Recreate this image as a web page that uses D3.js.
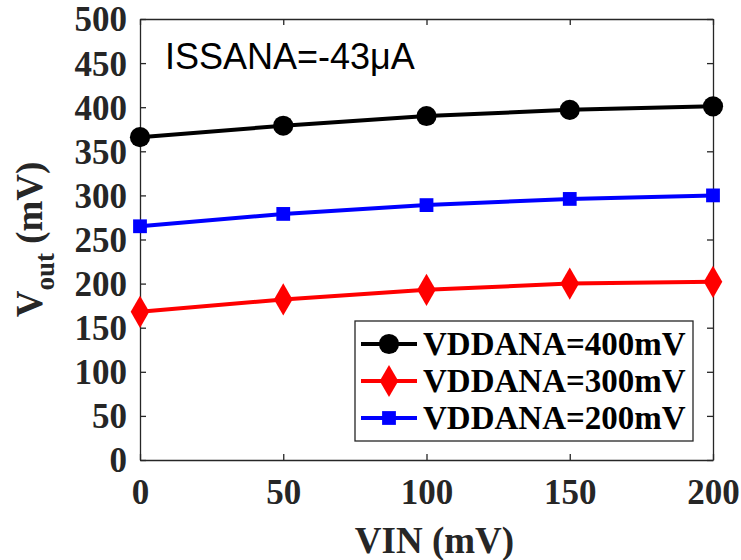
<!DOCTYPE html>
<html>
<head>
<meta charset="utf-8">
<script src="https://cdn.jsdelivr.net/npm/d3@7"></script>
<style>
  body { margin: 0; background: #fff; }
  .tick text { font-family: "Liberation Serif", "Times New Roman", serif; font-weight: bold; fill: #262626; }
</style>
</head>
<body>
<div id="wrapper"></div>
<script>
const vin = [0, 50, 100, 150, 200];
const vdd400 = [366, 379, 390, 397, 401];
const vdd300 = [168, 182, 193, 200, 202];
const vdd200 = [265, 279, 289, 296, 300];
const xTicks = [0, 50, 100, 150, 200];
const yTicks = [0, 50, 100, 150, 200, 250, 300, 350, 400, 450, 500];

const series = [
  { name: "VDDANA=400mV", values: vdd400, color: "#000000", marker: "circle" },
  { name: "VDDANA=300mV", values: vdd300, color: "#ff0000", marker: "diamond" },
  { name: "VDDANA=200mV", values: vdd200, color: "#0000ff", marker: "square" },
];

function drawChart() {
  const dimensions = {
    width: 741,
    height: 560,
    margin: { top: 19, right: 28, bottom: 100, left: 140 },
  };
  dimensions.boundedWidth = dimensions.width - dimensions.margin.left - dimensions.margin.right;
  dimensions.boundedHeight = dimensions.height - dimensions.margin.top - dimensions.margin.bottom;

  const svg = d3.select("#wrapper").append("svg")
    .attr("width", dimensions.width)
    .attr("height", dimensions.height);

  const bounds = svg.append("g")
    .attr("transform", `translate(${dimensions.margin.left},${dimensions.margin.top})`);

  const xScale = d3.scaleLinear().domain([0, 200]).range([0, dimensions.boundedWidth]);
  const yScale = d3.scaleLinear().domain([0, 500]).range([dimensions.boundedHeight, 0]);

  // axes (ticks inside, box)
  const axisColor = "#262626";
  const xAxis = bounds.append("g")
    .attr("transform", `translate(0,${dimensions.boundedHeight})`)
    .call(d3.axisBottom(xScale).tickValues(xTicks).tickSizeInner(-6).tickSizeOuter(0).tickPadding(19));
  const xTop = bounds.append("g")
    .call(d3.axisTop(xScale).tickValues(xTicks).tickSizeInner(-6).tickSizeOuter(0).tickFormat(""));
  const yAxis = bounds.append("g")
    .call(d3.axisLeft(yScale).tickValues(yTicks).tickSizeInner(-6).tickSizeOuter(0).tickPadding(13));
  const yRight = bounds.append("g")
    .attr("transform", `translate(${dimensions.boundedWidth},0)`)
    .call(d3.axisRight(yScale).tickValues(yTicks).tickSizeInner(-6).tickSizeOuter(0).tickFormat(""));

  [xAxis, xTop, yAxis, yRight].forEach(a => {
    a.selectAll("path, line").attr("stroke", axisColor).attr("stroke-width", 1.3);
    a.selectAll("text").style("font-size", "35px");
  });
  xAxis.selectAll("text").attr("dy", "0.71em");
  yAxis.selectAll("text").attr("dy", "0.34em");

  // lines and markers
  const lineGen = d3.line()
    .x((d, i) => xScale(vin[i]))
    .y(d => yScale(d));

  const symbolFor = {
    circle: d3.symbol().type(d3.symbolCircle).size(320),
    diamond: d3.symbol().type(d3.symbolDiamond).size(300),
    square: d3.symbol().type(d3.symbolSquare).size(190),
  };

  series.forEach(s => {
    bounds.append("path")
      .datum(s.values)
      .attr("fill", "none")
      .attr("stroke", s.color)
      .attr("stroke-width", 4)
      .attr("d", lineGen);
    bounds.selectAll(null)
      .data(s.values)
      .enter().append("path")
      .attr("transform", (d, i) => `translate(${xScale(vin[i])},${yScale(d)})`)
      .attr("d", symbolFor[s.marker]())
      .attr("fill", s.color);
  });

  // annotation
  bounds.append("text")
    .attr("x", 25)
    .attr("y", 50)
    .style("font-family", "'Liberation Sans', Arial, sans-serif")
    .style("font-size", "36px")
    .attr("fill", "#000")
    .text("ISSANA=-43μA");

  // legend
  const legend = bounds.append("g")
    .attr("transform", `translate(${355 - dimensions.margin.left},${321 - dimensions.margin.top})`);
  legend.append("rect")
    .attr("width", 338)
    .attr("height", 120)
    .attr("fill", "#fff")
    .attr("stroke", axisColor)
    .attr("stroke-width", 1.3);
  series.forEach((s, i) => {
    const y = 23 + i * 37;
    const g = legend.append("g").attr("transform", `translate(0,${y})`);
    g.append("line")
      .attr("x1", 6).attr("x2", 62)
      .attr("stroke", s.color).attr("stroke-width", 4);
    g.append("path")
      .attr("transform", "translate(34,0)")
      .attr("d", symbolFor[s.marker]())
      .attr("fill", s.color);
    g.append("text")
      .attr("x", 68)
      .attr("dy", "0.34em")
      .style("font-family", "'Liberation Serif', 'Times New Roman', serif")
      .style("font-weight", "bold")
      .style("font-size", "33px")
      .attr("fill", "#000")
      .text(s.name);
  });

  // axis titles
  svg.append("text")
    .attr("x", dimensions.margin.left + dimensions.boundedWidth / 2 + 8)
    .attr("y", 553)
    .attr("text-anchor", "middle")
    .style("font-family", "'Liberation Serif', 'Times New Roman', serif")
    .style("font-weight", "bold")
    .style("font-size", "37px")
    .attr("fill", "#262626")
    .text("VIN (mV)");

  const yTitle = svg.append("text")
    .attr("transform", `translate(42,${dimensions.margin.top + dimensions.boundedHeight / 2}) rotate(-90)`)
    .attr("text-anchor", "middle")
    .style("font-family", "'Liberation Serif', 'Times New Roman', serif")
    .style("font-weight", "bold")
    .style("font-size", "37px")
    .attr("fill", "#262626");
  yTitle.append("tspan").text("V");
  yTitle.append("tspan").attr("dy", 12).style("font-size", "27px").text("out");
  yTitle.append("tspan").attr("dy", -12).text(" (mV)");
}
drawChart();
</script>
</body>
</html>
